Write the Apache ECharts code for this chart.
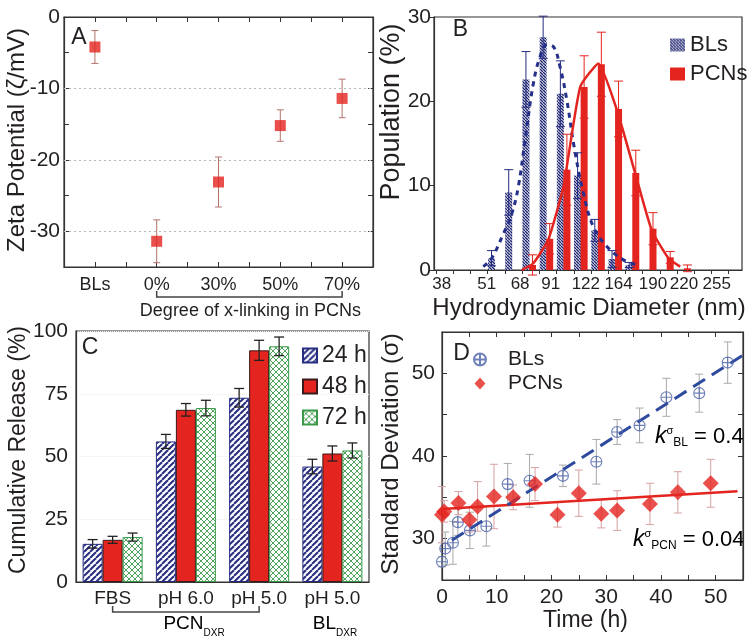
<!DOCTYPE html>
<html>
<head>
<meta charset="utf-8">
<title>Zeta potential, size distribution, drug release and stability</title>
<script src="https://cdn.jsdelivr.net/npm/echarts@6/dist/echarts.min.js"></script>
<style>
  html, body { margin: 0; padding: 0; background: #fff; }
  #chart { width: 750px; height: 638px; }
</style>
</head>
<body>
<div id="chart"></div>
<script>
// A: zeta potential
const zetaCats = ['BLs', '0%', '30%', '50%', '70%'];
const zetaMean = [-4.2, -31.4, -23.1, -15.2, -11.4];
const zetaErr = [2.3, 3.0, 3.5, 2.2, 2.7];
const zetaGridLines = [-10, -20, -30];

// B: hydrodynamic diameter distribution (x in bin units)
const sizeLabels = ['38', '51', '68', '91', '122', '164', '190', '220', '255'];
const sizeLabelBins = [-0.67, 1.94, 3.88, 5.66, 7.7, 9.6, 11.6, 13.4, 15.3];
const blBins = [2, 3, 4, 5, 6, 7, 8, 9, 10];
const blPop = [1.4, 9.2, 22.6, 27.6, 20.9, 11.2, 4.7, 1.3, 0.6];
const blPopErr = [0.9, 2.7, 3.3, 2.5, 3.9, 2.7, 1.3, 1.0, 0.3];
const pcnBins = [4, 5, 6, 7, 8, 9, 10, 11, 12, 13];
const pcnPop = [0.6, 3.7, 11.9, 21.7, 24.4, 19.1, 11.5, 4.9, 1.5, 0.2];
const pcnPopErr = [1.2, 1.8, 4.2, 3.7, 3.8, 3.3, 2.7, 1.9, 0.7, 0.4];
const blCurveX = [1.74, 2.23, 2.91, 3.4, 3.78, 4.17, 4.65, 5.04, 5.43, 5.81, 6.2, 6.59, 7.02, 7.56, 8.14, 8.92, 9.88, 10.66];
const blCurveY = [0.4, 1.4, 4.3, 6.7, 9.9, 15.4, 22.1, 25.3, 26.7, 26.5, 24.1, 20.2, 14.6, 9.1, 5.1, 2.8, 1.2, 0.6];
const pcnCurveX = [3.98, 4.65, 5.52, 6.4, 7.37, 8.43, 9.5, 10.56, 11.53, 12.5, 13.18];
const pcnCurveY = [0, 0.8, 3.6, 9.9, 21.7, 24.5, 19.0, 11.5, 4.7, 1.4, 0.4];

// C: cumulative release
const releaseCats = ['FBS', 'pH 6.0', 'pH 5.0', 'pH 5.0'];
const rel24 = [15.2, 56.0, 73.4, 46.0];
const rel24Err = [1.7, 2.8, 3.7, 2.9];
const rel48 = [16.8, 68.6, 92.3, 51.2];
const rel48Err = [1.4, 2.5, 4.0, 3.0];
const rel72 = [17.9, 69.3, 93.9, 52.4];
const rel72Err = [1.6, 3.1, 3.7, 3.0];

// D: standard deviation over time
const blTime = [0, 0.6, 2.0, 2.9, 5.1, 8.1, 12.0, 16.0, 22.1, 28.2, 32.0, 36.1, 41.0, 47.0, 52.2];
const blSd = [27.2, 28.8, 29.5, 32.0, 31.0, 31.5, 36.6, 37.0, 37.6, 39.3, 42.9, 43.7, 47.1, 47.6, 51.3];
const blSdErr = [0.6, 2.0, 2.6, 1.6, 2.2, 2.4, 2.5, 3.2, 1.3, 2.7, 1.5, 2.1, 2.3, 2.3, 2.5];
const pcnTime = [0, 0.4, 3.0, 5.0, 6.5, 9.5, 13.0, 17.0, 21.1, 25.0, 29.1, 32.0, 38.0, 43.1, 49.1];
const pcnSd = [32.9, 33.3, 34.3, 32.3, 33.9, 35.1, 35.0, 36.6, 32.9, 35.5, 33.0, 33.4, 34.2, 35.6, 36.7];
const pcnSdErr = [3.4, 1.3, 1.4, 1.5, 3.0, 3.9, 1.5, 2.0, 1.5, 2.8, 1.7, 2.4, 2.5, 2.5, 2.9];
const blFitTime = [1.8, 55];
const blFitSd = [29.8, 52.2];
const pcnFitTime = [0, 54];
const pcnFitSd = [33.6, 35.75];

const RED = '#e3241f';
const NAVY = '#262c80';
const FONT = 'Liberation Sans';
const TXT = '#231f20';

function hatch(size, color, lw, dirs, bg) {
  const c = document.createElement('canvas');
  c.width = c.height = size;
  const g = c.getContext('2d');
  g.fillStyle = bg;
  g.fillRect(0, 0, size, size);
  g.strokeStyle = color;
  g.lineWidth = lw;
  dirs.forEach(d => {
    for (let k = -1; k <= 1; k++) {
      g.beginPath();
      if (d === '/') { g.moveTo(k * size, size); g.lineTo(k * size + size, 0); }
      else { g.moveTo(k * size, 0); g.lineTo(k * size + size, size); }
      g.stroke();
    }
  });
  return { image: c, repeat: 'repeat' };
}

const blHatch = hatch(3, '#1f2470', 1.5, ['\\'], '#fff');
const hatch24 = hatch(6, NAVY, 2, ['/'], '#fff');
const cross72 = hatch(6, '#3a9a4a', 0.9, ['/', '\\'], '#fff');

// error bars drawn as custom series
function errorBars(color, cap, width, dx) {
  return function (params, api) {
    const x = api.value(0), y = api.value(1), e = api.value(2);
    const hi = api.coord([x, y + e]);
    const lo = api.coord([x, y - e]);
    const cx = hi[0] + (dx || 0);
    const style = { stroke: color, lineWidth: width, fill: null };
    return {
      type: 'group',
      children: [
        { type: 'line', shape: { x1: cx, y1: hi[1], x2: cx, y2: lo[1] }, style: style },
        { type: 'line', shape: { x1: cx - cap, y1: hi[1], x2: cx + cap, y2: hi[1] }, style: style },
        { type: 'line', shape: { x1: cx - cap, y1: lo[1], x2: cx + cap, y2: lo[1] }, style: style }
      ]
    };
  };
}

const zip = (xs, ys) => xs.map((x, i) => [x, ys[i]]);
const zip3 = (xs, ys, es) => xs.map((x, i) => [x, ys[i], es[i]]);
const tenths = v => (v % 10 === 0 ? String(v) : '');

const axisLine = { show: true, onZero: false, lineStyle: { color: '#333', width: 1.2 } };
const lbl = (size, margin) => ({ color: TXT, fontFamily: FONT, fontSize: size, margin: margin });
const tickIn = { inside: true, length: 5, lineStyle: { color: '#333' } };
const tickOut = { inside: false, length: 4, lineStyle: { color: '#333' } };

const BL_OFF = 0.22, PCN_OFF = 0.6;
const sizeTicks = [];
for (let k = -1; k <= 16; k++) sizeTicks.push(k);

const circlePlus = 'path://M10,0A10,10,0,1,1,-10,0A10,10,0,1,1,10,0ZM-10,0L10,0M0,-10L0,10';
const diamondPath = 'path://M0,-11L10,0L0,11L-10,0Z';

const chart = echarts.init(document.getElementById('chart'));

const option = {
  backgroundColor: '#fff',
  animation: false,
  textStyle: { fontFamily: FONT },
  grid: [
    { left: 64, top: 17, width: 309, height: 250, show: true, borderColor: '#333', borderWidth: 1.2 },
    { left: 434, top: 17, width: 308, height: 253, show: true, borderColor: '#333', borderWidth: 1.2 },
    { left: 76, top: 331, width: 293, height: 251, show: true, borderColor: '#333', borderWidth: 1.2 },
    { left: 442, top: 332, width: 301, height: 248, show: true, borderColor: '#333', borderWidth: 1.2 }
  ],
  xAxis: [
    { gridIndex: 0, type: 'value', min: -0.5, max: 4.5, interval: 0.5, axisLine: axisLine,
      axisTick: tickIn, splitLine: { show: false },
      axisLabel: Object.assign(lbl(18, 9), { formatter: v => {
        const i = Math.round(v);
        return Math.abs(v - i) < 1e-6 && zetaCats[i] ? zetaCats[i] : '';
      } }) },
    { gridIndex: 0, type: 'value', position: 'top', min: -0.5, max: 4.5, interval: 0.5, axisLine: axisLine,
      axisTick: tickIn, axisLabel: { show: false }, splitLine: { show: false } },
    { gridIndex: 1, type: 'value', min: -1.12, max: 16.77, axisLine: axisLine, splitLine: { show: false },
      axisTick: Object.assign({ customValues: sizeTicks }, tickOut),
      axisLabel: Object.assign(lbl(17, 6), { customValues: sizeLabelBins, formatter: v => {
        const i = sizeLabelBins.findIndex(b => Math.abs(b - v) < 1e-6);
        return i >= 0 ? sizeLabels[i] : '';
      } }) },
    { gridIndex: 2, type: 'category', data: releaseCats, axisLine: axisLine,
      axisTick: tickOut, axisLabel: lbl(19, 7) },
    { gridIndex: 3, type: 'value', min: 0, max: 55, interval: 5, axisLine: axisLine, splitLine: { show: false },
      axisTick: tickIn, axisLabel: Object.assign(lbl(21, 7), { formatter: tenths }) },
    { gridIndex: 3, type: 'value', position: 'top', min: 0, max: 55, interval: 5, axisLine: axisLine, splitLine: { show: false },
      axisTick: tickIn, axisLabel: { show: false } }
  ],
  yAxis: [
    { gridIndex: 0, type: 'value', min: -35, max: 0, interval: 5, axisLine: axisLine, splitLine: { show: false },
      axisTick: tickIn, axisLabel: Object.assign(lbl(21, 4), { formatter: tenths }) },
    { gridIndex: 0, type: 'value', position: 'right', min: -35, max: 0, interval: 5, axisLine: axisLine, splitLine: { show: false },
      axisTick: tickIn, axisLabel: { show: false } },
    { gridIndex: 1, type: 'value', min: 0, max: 30, interval: 10, axisLine: axisLine, splitLine: { show: false },
      axisTick: tickOut, axisLabel: lbl(21, 3) },
    { gridIndex: 2, type: 'value', min: 0, max: 100, interval: 25, axisLine: axisLine,
      splitLine: { show: true, lineStyle: { color: '#ececec', type: 'dotted' } },
      axisTick: tickOut, axisLabel: lbl(21, 8) },
    { gridIndex: 3, type: 'value', min: 25, max: 55, interval: 5, axisLine: axisLine, splitLine: { show: false },
      axisTick: tickIn, axisLabel: Object.assign(lbl(21, 7), { formatter: tenths }) },
    { gridIndex: 3, type: 'value', position: 'right', min: 25, max: 55, interval: 5, axisLine: axisLine, splitLine: { show: false },
      axisTick: tickIn, axisLabel: { show: false } }
  ],
  legend: [
    { data: ['BLs', 'PCNs'], left: 665, top: 29, orient: 'vertical', icon: 'rect', itemWidth: 15, itemHeight: 13,
      itemGap: 7, selectedMode: false, textStyle: { fontSize: 22, color: TXT, fontFamily: FONT } },
    { data: ['24 h', '48 h', '72 h'], left: 297, top: 339, orient: 'vertical', icon: 'rect', itemWidth: 14, itemHeight: 14,
      itemGap: 8, selectedMode: false, textStyle: { fontSize: 23, color: TXT, fontFamily: FONT } },
    { data: [{ name: 'BLs ', icon: circlePlus }, { name: 'PCNs ', icon: diamondPath }], left: 468, top: 344, orient: 'vertical',
      itemWidth: 38, itemHeight: 12, itemGap: 3, selectedMode: false, formatter: n => n.trim(),
      textStyle: { fontSize: 21, color: TXT, fontFamily: FONT, padding: [0, 0, 0, 4] } }
  ],
  series: [
    // A
    { type: 'custom', xAxisIndex: 0, yAxisIndex: 0, z: 3, renderItem: errorBars('#b5736c', 3.5, 1),
      data: zip3(zetaCats.map((_, i) => i), zetaMean, zetaErr) },
    { type: 'scatter', name: 'zeta', xAxisIndex: 0, yAxisIndex: 0, z: 5, symbol: 'rect', symbolSize: 11,
      itemStyle: { color: RED }, data: zip(zetaCats.map((_, i) => i), zetaMean),
      markLine: { silent: true, symbol: ['none', 'none'], label: { show: false },
        lineStyle: { color: '#b8b8b8', type: [2, 3], width: 1 },
        data: zetaGridLines.map(v => ({ yAxis: v })) } },
    // B
    { type: 'bar', name: 'BLs', xAxisIndex: 2, yAxisIndex: 2, barWidth: 7, barGap: '-100%',
      itemStyle: { color: blHatch }, data: zip(blBins.map(b => b + BL_OFF), blPop) },
    { type: 'bar', name: 'PCNs', xAxisIndex: 2, yAxisIndex: 2, barWidth: 7, barGap: '-100%',
      itemStyle: { color: RED }, data: zip(pcnBins.map(b => b + PCN_OFF), pcnPop) },
    { type: 'custom', xAxisIndex: 2, yAxisIndex: 2, z: 3, renderItem: errorBars(NAVY, 4.5, 1),
      data: zip3(blBins.map(b => b + BL_OFF), blPop, blPopErr) },
    { type: 'custom', xAxisIndex: 2, yAxisIndex: 2, z: 3, renderItem: errorBars(RED, 4.5, 1),
      data: zip3(pcnBins.map(b => b + PCN_OFF), pcnPop, pcnPopErr) },
    { type: 'line', xAxisIndex: 2, yAxisIndex: 2, z: 4, smooth: 0.4, showSymbol: false, symbol: 'none',
      lineStyle: { color: '#25308a', width: 3, type: [5, 5] }, data: zip(blCurveX, blCurveY) },
    { type: 'line', xAxisIndex: 2, yAxisIndex: 2, z: 4, smooth: 0.15, showSymbol: false, symbol: 'none',
      lineStyle: { color: RED, width: 2.5 }, data: zip(pcnCurveX, pcnCurveY) },
    // C
    { type: 'bar', name: '24 h', xAxisIndex: 3, yAxisIndex: 3, barWidth: 20, barGap: '0%',
      itemStyle: { color: hatch24, borderColor: NAVY, borderWidth: 1 }, data: rel24 },
    { type: 'bar', name: '48 h', xAxisIndex: 3, yAxisIndex: 3, barWidth: 20, barGap: '0%',
      itemStyle: { color: RED, borderColor: '#3a1a1a', borderWidth: 1 }, data: rel48 },
    { type: 'bar', name: '72 h', xAxisIndex: 3, yAxisIndex: 3, barWidth: 20, barGap: '0%',
      itemStyle: { color: cross72, borderColor: '#3a9a4a', borderWidth: 1 }, data: rel72 },
    { type: 'custom', xAxisIndex: 3, yAxisIndex: 3, z: 3, renderItem: errorBars('#222', 5, 1.3, -20),
      data: zip3(releaseCats.map((_, i) => i), rel24, rel24Err) },
    { type: 'custom', xAxisIndex: 3, yAxisIndex: 3, z: 3, renderItem: errorBars('#222', 5, 1.3, 0),
      data: zip3(releaseCats.map((_, i) => i), rel48, rel48Err) },
    { type: 'custom', xAxisIndex: 3, yAxisIndex: 3, z: 3, renderItem: errorBars('#222', 5, 1.3, 20),
      data: zip3(releaseCats.map((_, i) => i), rel72, rel72Err) },
    // D
    { type: 'custom', xAxisIndex: 4, yAxisIndex: 4, z: 2, renderItem: errorBars('#a9a9a9', 4, 1),
      data: zip3(blTime, blSd, blSdErr) },
    { type: 'custom', xAxisIndex: 4, yAxisIndex: 4, z: 2, renderItem: errorBars('#d6a0a0', 4, 1),
      data: zip3(pcnTime, pcnSd, pcnSdErr) },
    { type: 'line', xAxisIndex: 4, yAxisIndex: 4, z: 3, symbol: 'none', showSymbol: false,
      lineStyle: { color: RED, width: 2.5 }, data: zip(pcnFitTime, pcnFitSd) },
    { type: 'line', xAxisIndex: 4, yAxisIndex: 4, z: 3, symbol: 'none', showSymbol: false,
      lineStyle: { color: '#2e4a9e', width: 3, type: [14, 8] }, data: zip(blFitTime, blFitSd) },
    { type: 'scatter', name: 'BLs ', xAxisIndex: 4, yAxisIndex: 4, z: 5, symbol: circlePlus, symbolSize: 11,
      itemStyle: { color: 'rgba(0,0,0,0)', borderColor: '#4a62a8', borderWidth: 1.1 }, data: zip(blTime, blSd) },
    { type: 'scatter', name: 'PCNs ', xAxisIndex: 4, yAxisIndex: 4, z: 5, symbol: diamondPath, symbolSize: 16,
      itemStyle: { color: RED }, data: zip(pcnTime, pcnSd) }
  ]
};

chart.setOption(option);

// annotations and brackets placed from axis positions
const txt = (text, x, y, size, extra) => Object.assign({
  type: 'text', x: x, y: y, silent: true,
  style: { text: text, fill: TXT, font: size + 'px "' + FONT + '"', textAlign: 'center', textVerticalAlign: 'middle' }
}, extra || {});
const vtxt = (text, x, y, size) => txt(text, x, y, size, { rotation: Math.PI / 2 });

const aL = chart.convertToPixel({ xAxisIndex: 0 }, 1);
const aR = chart.convertToPixel({ xAxisIndex: 0 }, 4);
const cL = chart.convertToPixel({ xAxisIndex: 3 }, 0);
const cR = chart.convertToPixel({ xAxisIndex: 3 }, 2);
const bracket = (x0, x1, y) => ({
  type: 'polyline', silent: true,
  shape: { points: [[x0, y - 6], [x0, y], [x1, y], [x1, y - 6]] },
  style: { stroke: '#444', lineWidth: 1.5, fill: null }
});
const subText = (main, sub, x, y, color) => ({
  type: 'text', x: x, y: y, silent: true,
  style: {
    text: '{m|' + main + '}{s|' + sub + '}', textAlign: 'center', textVerticalAlign: 'middle',
    rich: {
      m: { fontSize: 19, fontFamily: FONT, color: color, verticalAlign: 'bottom', padding: [0, 0, 5, 0] },
      s: { fontSize: 10, fontFamily: FONT, color: color, verticalAlign: 'bottom' }
    }
  }
});
const kText = (sub, value, x, y, color) => ({
  type: 'text', x: x, y: y, silent: true,
  style: {
    text: '{k|k}{s|σ}{b|' + sub + '}{e| = ' + value + '}', textAlign: 'left', textVerticalAlign: 'middle',
    rich: {
      k: { fontSize: 23, fontStyle: 'italic', fontFamily: FONT, color: color, verticalAlign: 'middle' },
      s: { fontSize: 11, fontFamily: FONT, color: color, verticalAlign: 'top' },
      b: { fontSize: 12, fontFamily: FONT, color: color, verticalAlign: 'bottom' },
      e: { fontSize: 22, fontFamily: FONT, color: color, verticalAlign: 'middle' }
    }
  }
});

chart.setOption({
  graphic: [
    txt('A', 79, 38, 23), txt('B', 460.5, 30, 23), txt('C', 90, 348, 23), txt('D', 461.5, 354, 23),
    vtxt('Zeta Potential (ζ/mV)', 17.5, 140, 24),
    vtxt('Population (%)', 391.5, 112, 27),
    vtxt('Cumulative Release (%)', 19, 450, 23),
    vtxt('Standard Deviation (σ)', 391, 454, 24),
    bracket(aL, aR, 297),
    txt('Degree of x-linking in PCNs', (aL + aR) / 2 + 1, 311, 18),
    txt('Hydrodynamic Diameter (nm)', 589, 308, 24),
    txt('Time (h)', 585.5, 621, 23),
    bracket(cL, cR, 612),
    subText('PCN', 'DXR', 194, 626, TXT),
    subText('BL', 'DXR', 335, 626, TXT),
    kText('BL', '0.4', 655, 437, '#2b2f8a'),
    kText('PCN', '0.04', 633, 540, RED)
  ]
});
</script>
</body>
</html>
